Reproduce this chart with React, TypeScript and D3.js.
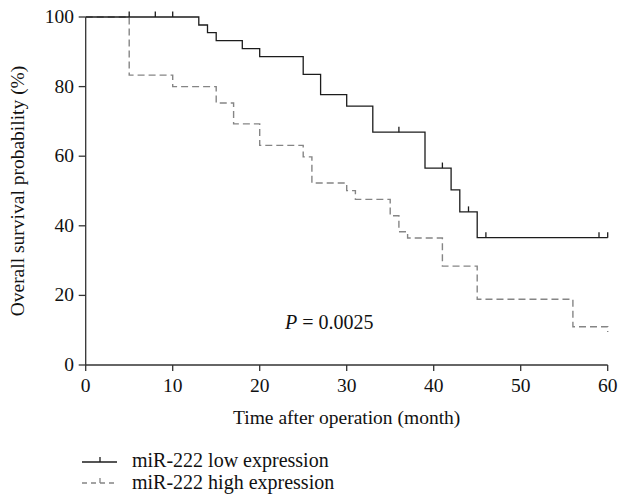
import React from "react";
import * as d3 from "d3";

const lowTimes = [0, 13, 14, 15, 18, 20, 25, 27, 30, 33, 39, 42, 43, 45, 60];
const lowSurv = [100, 97.7, 95.5, 93.2, 90.9, 88.6, 83.5, 77.7, 74.4, 66.9, 56.6, 50.3, 44.0, 36.6, 36.6];
const lowCensored = [5, 8, 10, 36, 41, 44, 46, 59, 60];

const highTimes = [0, 5, 10, 15, 17, 20, 25, 26, 30, 31, 35, 36, 37, 41, 45, 56, 60];
const highSurv = [100, 83.3, 80.0, 75.3, 69.3, 63.1, 59.8, 52.3, 50.1, 47.6, 42.9, 38.3, 36.5, 28.4, 18.9, 11.0, 9.5];
const highCensored: number[] = [];

const xTicks = [0, 10, 20, 30, 40, 50, 60];
const yTicks = [0, 20, 40, 60, 80, 100];

const legendLabels = ["miR-222 low expression", "miR-222 high expression"];
const xTitle = "Time after operation (month)";
const yTitle = "Overall survival probability (%)";
const pLabel = "0.0025";

const W = 619;
const H = 500;
const FONT = "'Liberation Serif', 'DejaVu Serif', serif";

export default function App() {
  const x = d3.scaleLinear().domain([0, 60]).range([85.7, 607.7]);
  const y = d3.scaleLinear().domain([0, 100]).range([365, 17]);

  const line = d3
    .line<[number, number]>()
    .x((d) => x(d[0]))
    .y((d) => y(d[1]))
    .curve(d3.curveStepAfter);

  const lowPts = lowTimes.map((t, i) => [t, lowSurv[i]] as [number, number]);
  const highPts = highTimes.map((t, i) => [t, highSurv[i]] as [number, number]);

  const survAt = (times: number[], surv: number[], t: number) => {
    let v = surv[0];
    for (let i = 0; i < times.length; i++) if (times[i] <= t) v = surv[i];
    return v;
  };

  const solid = "#1c1c1c";
  const gray = "#858585";
  const axisColor = "#333";

  return (
    <svg width={W} height={H} style={{ position: "absolute", left: 0, top: 0 }} fontFamily={FONT}>
      <rect width={W} height={H} fill="#fff" />
      {/* axes */}
      <line x1={x(0)} x2={x(60)} y1={y(0)} y2={y(0)} stroke={axisColor} strokeWidth={1.3} />
      <line x1={x(0)} x2={x(0)} y1={y(0)} y2={y(100)} stroke={axisColor} strokeWidth={1.3} />
      {xTicks.map((t) => (
        <g key={"x" + t}>
          <line x1={x(t)} x2={x(t)} y1={y(0)} y2={y(0) + 6} stroke={axisColor} strokeWidth={1.3} />
          <text x={x(t)} y={392} textAnchor="middle" fontSize={19.5} fill="#111">
            {t}
          </text>
        </g>
      ))}
      {yTicks.map((t) => (
        <g key={"y" + t}>
          <line x1={x(0) - 7} x2={x(0)} y1={y(t)} y2={y(t)} stroke={axisColor} strokeWidth={1.3} />
          <text x={74} y={y(t) + 6} textAnchor="end" fontSize={19.5} fill="#111">
            {t}
          </text>
        </g>
      ))}
      <text x={(x(0) + x(60)) / 2} y={424} textAnchor="middle" fontSize={19.5} fill="#111">
        {xTitle}
      </text>
      <text
        transform={`translate(24,${(y(0) + y(100)) / 2}) rotate(-90)`}
        textAnchor="middle"
        fontSize={19.5}
        fill="#111"
      >
        {yTitle}
      </text>

      {/* curves */}
      <path d={line(highPts) || ""} fill="none" stroke={gray} strokeWidth={1.4} strokeDasharray="7,4" />
      <path d={line(lowPts) || ""} fill="none" stroke={solid} strokeWidth={1.3} />
      {lowCensored.map((t, i) => {
        const v = survAt(lowTimes, lowSurv, t);
        return <line key={"lc" + i} x1={x(t)} x2={x(t)} y1={y(v)} y2={y(v) - 5.5} stroke={solid} strokeWidth={1.3} />;
      })}
      {highCensored.map((t, i) => {
        const v = survAt(highTimes, highSurv, t);
        return <line key={"hc" + i} x1={x(t)} x2={x(t)} y1={y(v)} y2={y(v) - 5.5} stroke={gray} strokeWidth={1.3} />;
      })}

      <text x={285} y={329} fontSize={20} fill="#111">
        <tspan fontStyle="italic">P</tspan>
        <tspan> = {pLabel}</tspan>
      </text>

      {/* legend */}
      <g>
        <line x1={82} x2={117} y1={462} y2={462} stroke={solid} strokeWidth={1.3} />
        <line x1={100} x2={100} y1={462} y2={457} stroke={solid} strokeWidth={1.3} />
        <text x={132} y={467} fontSize={20} fill="#111">
          {legendLabels[0]}
        </text>
        <line x1={82} x2={117} y1={483} y2={483} stroke={gray} strokeWidth={1.4} strokeDasharray="5,4" />
        <line x1={100} x2={100} y1={483} y2={478} stroke={gray} strokeWidth={1.3} />
        <text x={132} y={489} fontSize={20} fill="#111">
          {legendLabels[1]}
        </text>
      </g>
    </svg>
  );
}
